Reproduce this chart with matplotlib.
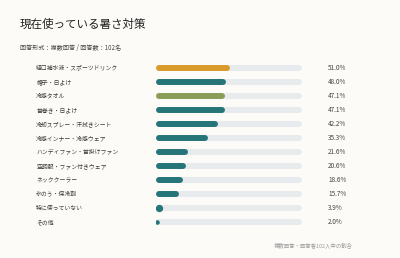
import matplotlib
matplotlib.use("Agg")
import matplotlib.pyplot as plt
import numpy as np

plt.rcParams['font.family'] = ['Noto Sans CJK JP', 'DejaVu Sans']

labels = ["経口補水液・スポーツドリンク", "帽子・日よけ", "冷感タオル", "首巻き・日よけ",
          "冷却スプレー・汗拭きシート", "冷感インナー・冷感ウェア", "ハンディファン・首掛けファン",
          "空調服・ファン付きウェア", "ネッククーラー", "氷のう・保冷剤", "特に使っていない", "その他"]
values = [51.0, 48.0, 47.1, 47.1, 42.2, 35.3, 21.6, 20.6, 18.6, 15.7, 3.9, 2.0]
colors = ["#d99b2b", "#267578", "#8a9c58", "#267578", "#267578", "#267578",
          "#267578", "#267578", "#267578", "#267578", "#267578", "#267578"]

bg = "#fcfbf8"
fig = plt.figure(figsize=(4, 2.58), dpi=100, facecolor=bg)
# 0 -> 156px, 100 -> 302px
ax = fig.add_axes([156 / 400, 1 - 229 / 258, 224 / 400, 168 / 258])
ax.set_facecolor(bg)
ax.set_xlim(0, 224 / 1.46)
ax.set_ylim(len(values) - 0.5, -0.5)
ax.axis('off')

lw = 4.3  # points, ~6px
r = 3 / 1.46  # cap radius in data units
y = np.arange(len(values))

# track
ax.hlines(y, r, 100 - r, color="#e8ebee", lw=lw, capstyle='round')
for i, v in enumerate(values):
    if v > 2 * r:
        ax.plot([r, v - r], [i, i], color=colors[i], lw=lw, solid_capstyle='round')
    else:
        # too short for round caps: small dot
        ax.plot([v / 2], [i], marker='o', ms=lw * min(1.0, v / (2 * r)) + 1.2,
                color=colors[i], mec='none')
    ax.text(-82, i, labels[i], fontsize=4.2, color="#3a3a3a", va='center', ha='left', clip_on=False)
    ax.text(117.8, i, f"{v:.1f}%", fontsize=4.6, color="#444444", va='center', ha='left')

fig.text(20 / 400, 1 - 24 / 258, "現在使っている暑さ対策", fontsize=8.3, color="#222222", va='center', ha='left')
fig.text(20 / 400, 1 - 48 / 258, "回答形式：複数回答 / 回答数：102名", fontsize=4.4, color="#444444", va='center', ha='left')
fig.text(353 / 400, 1 - 245 / 258, "複数回答・回答者102人中の割合", fontsize=3.9, color="#999999", va='center', ha='right')

fig.savefig("out.png", dpi=100, facecolor=bg)
